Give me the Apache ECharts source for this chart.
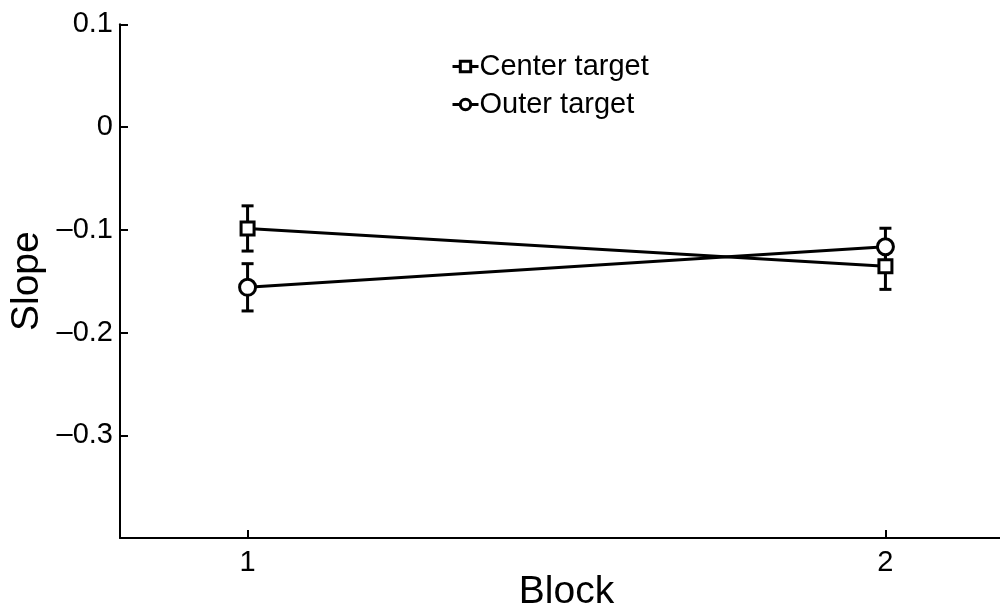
<!DOCTYPE html>
<html>
<head>
<meta charset="utf-8">
<script src="https://cdn.jsdelivr.net/npm/echarts@6/dist/echarts.min.js"></script>
<style>html,body{margin:0;padding:0;background:#fff;}#c{width:1000px;height:607px;}</style>
</head>
<body>
<div id="c"></div>
<script>
const blocks = [1, 2];
const centerMean = [-0.0987, -0.1354];
const centerErr = [0.022, 0.0226];
const outerMean = [-0.156, -0.1165];
const outerErr = [0.023, 0.018];
const yTicks = [-0.3, -0.2, -0.1, 0, 0.1];
const seriesNames = ['Center target', 'Outer target'];

const FONT = 'Liberation Sans, Arial, Helvetica, sans-serif';
const chart = echarts.init(document.getElementById('c'), null, {renderer: 'canvas'});

function pts(means) { return blocks.map((b, i) => [b, means[i]]); }
function errData(means, errs) { return blocks.map((b, i) => [b, means[i] - errs[i], means[i] + errs[i]]); }

function errRender(params, api) {
  const x = api.value(0);
  const lo = api.coord([x, api.value(1)]);
  const hi = api.coord([x, api.value(2)]);
  const cap = 6;
  const style = {stroke: '#000', lineWidth: 3, fill: null};
  return {
    type: 'group',
    children: [
      {type: 'line', shape: {x1: lo[0], y1: lo[1], x2: hi[0], y2: hi[1]}, style},
      {type: 'line', shape: {x1: lo[0] - cap, y1: lo[1], x2: lo[0] + cap, y2: lo[1]}, style},
      {type: 'line', shape: {x1: hi[0] - cap, y1: hi[1], x2: hi[0] + cap, y2: hi[1]}, style}
    ]
  };
}

const option = {
  animation: false,
  backgroundColor: '#fff',
  grid: {left: 120, top: 24.3, right: -13, bottom: 69, containLabel: false, outerBoundsMode: 'none'},
  legend: {
    orient: 'vertical', left: 446, top: 47, itemGap: 9, itemWidth: 26, itemHeight: 13,
    data: seriesNames,
    lineStyle: {width: 3, color: '#000'},
    itemStyle: {borderWidth: 3, borderColor: '#000', color: '#fff'},
    textStyle: {color: '#000', fontSize: 29, fontFamily: FONT, padding: [0, 0, 0, -4]}
  },
  xAxis: {
    type: 'value', min: 0.8, max: 2.2,
    name: 'Block', nameLocation: 'middle', nameGap: 54, nameMoveOverlap: false,
    nameTextStyle: {color: '#000', fontSize: 39, fontFamily: FONT, verticalAlign: 'middle', lineHeight: 39},
    axisLine: {show: true, onZero: false, lineStyle: {color: '#000', width: 2}},
    axisTick: {show: true, inside: true, length: 8, lineStyle: {color: '#000', width: 2}, customValues: blocks},
    axisLabel: {color: '#000', fontSize: 29, fontFamily: FONT, margin: 10, customValues: blocks},
    splitLine: {show: false}
  },
  yAxis: {
    type: 'value', min: -0.4, max: 0.1,
    name: 'Slope', nameLocation: 'middle', nameGap: 93, nameRotate: 90, nameMoveOverlap: false,
    nameTextStyle: {color: '#000', fontSize: 39, fontFamily: FONT, verticalAlign: 'middle', lineHeight: 39},
    axisLine: {show: true, onZero: false, lineStyle: {color: '#000', width: 2}},
    axisTick: {show: true, inside: true, length: 8, lineStyle: {color: '#000', width: 2}, customValues: yTicks},
    axisLabel: {color: '#000', fontSize: 29, fontFamily: FONT, margin: 7, customValues: yTicks,
      formatter: v => (Math.abs(v) < 1e-9 ? '0' : (Math.round(v * 10) / 10).toFixed(1).replace('-', '\u2013'))},
    splitLine: {show: false}
  },
  series: [
    {type: 'custom', name: 'errC', renderItem: errRender, data: errData(centerMean, centerErr), z: 1, silent: true},
    {type: 'custom', name: 'errO', renderItem: errRender, data: errData(outerMean, outerErr), z: 1, silent: true},
    {
      type: 'line', name: seriesNames[0], data: pts(centerMean), z: 3,
      symbol: 'rect', symbolSize: 13, showAllSymbol: true,
      lineStyle: {color: '#000', width: 3},
      itemStyle: {color: '#fff', borderColor: '#000', borderWidth: 3}
    },
    {
      type: 'line', name: seriesNames[1], data: pts(outerMean), z: 3,
      symbol: 'circle', symbolSize: 16, showAllSymbol: true,
      lineStyle: {color: '#000', width: 3},
      itemStyle: {color: '#fff', borderColor: '#000', borderWidth: 3}
    }
  ]
};
chart.setOption(option);
</script>
</body>
</html>
